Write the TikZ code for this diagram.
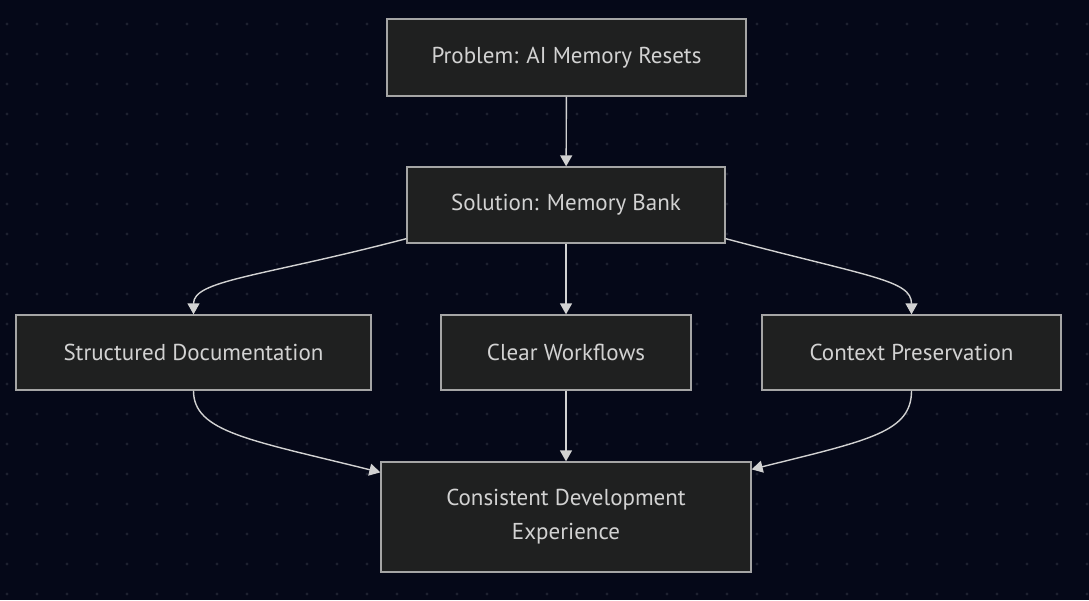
\documentclass[tikz,border=0pt]{standalone}
\usepackage{fontspec}
\setmainfont{PT Sans}
\usetikzlibrary{arrows.meta}
\definecolor{bgcol}{RGB}{5,8,24}
\definecolor{dotcol}{RGB}{30,33,48}
\definecolor{boxfill}{RGB}{31,32,32}
\definecolor{boxline}{RGB}{165,165,165}
\definecolor{txtcol}{RGB}{210,210,210}
\definecolor{linecol}{RGB}{210,210,210}
\tikzset{
  box/.style={draw=boxline, fill=boxfill, line width=1.3pt, text=txtcol,
    inner sep=0pt, align=center, font=\fontsize{23}{34}\selectfont},
  conn/.style={draw=linecol, line width=1.4pt, -{Triangle[width=12pt,length=11pt]}}
}
\begin{document}
\begin{tikzpicture}[x=1pt,y=-1pt]
\fill[bgcol] (0,0) rectangle (1089,600);
\useasboundingbox (0,0) rectangle (1089,600);
\foreach \i in {7,37,...,1087}{
  \foreach \j in {24,54,...,594}{
    \fill[dotcol] (\i,\j) circle (1.6pt);
  }
}
\node[box, minimum width=359pt, minimum height=77pt] (prob) at (566.5,57.5) {Problem: AI Memory Resets};
\node[box, minimum width=318pt, minimum height=76pt] (sol) at (566,205) {Solution: Memory Bank};
\node[box, minimum width=355pt, minimum height=75pt] (sd) at (193.5,352.5) {Structured Documentation};
\node[box, minimum width=250pt, minimum height=75pt] (cw) at (566,352.5) {Clear Workflows};
\node[box, minimum width=299pt, minimum height=75pt] (cp) at (911.5,352.5) {Context Preservation};
\node[box, minimum width=370pt, minimum height=110pt] (cde) at (566,517) {Consistent Development\\Experience};

\coordinate (solL) at ([yshift=5pt]sol.south west);
\coordinate (solR) at ([yshift=5pt]sol.south east);
\coordinate (cdeL) at ([yshift=-11pt]cde.north west);
\coordinate (cdeR) at ([yshift=-8pt]cde.north east);

\draw[conn] (prob) -- (sol);
\draw[conn] (sol) -- (cw);
\draw[conn] (cw) -- (cde);
\draw[conn] (solL) .. controls (260,277) and (193.5,280) .. (sd.north);
\draw[conn] (solR) .. controls (870,277) and (911.5,280) .. (cp.north);
\draw[conn] (sd.south) .. controls (193.5,432) and (250,440) .. (cdeL);
\draw[conn] (cp.south) .. controls (911.5,432) and (870,440) .. (cdeR);
\end{tikzpicture}
\end{document}
